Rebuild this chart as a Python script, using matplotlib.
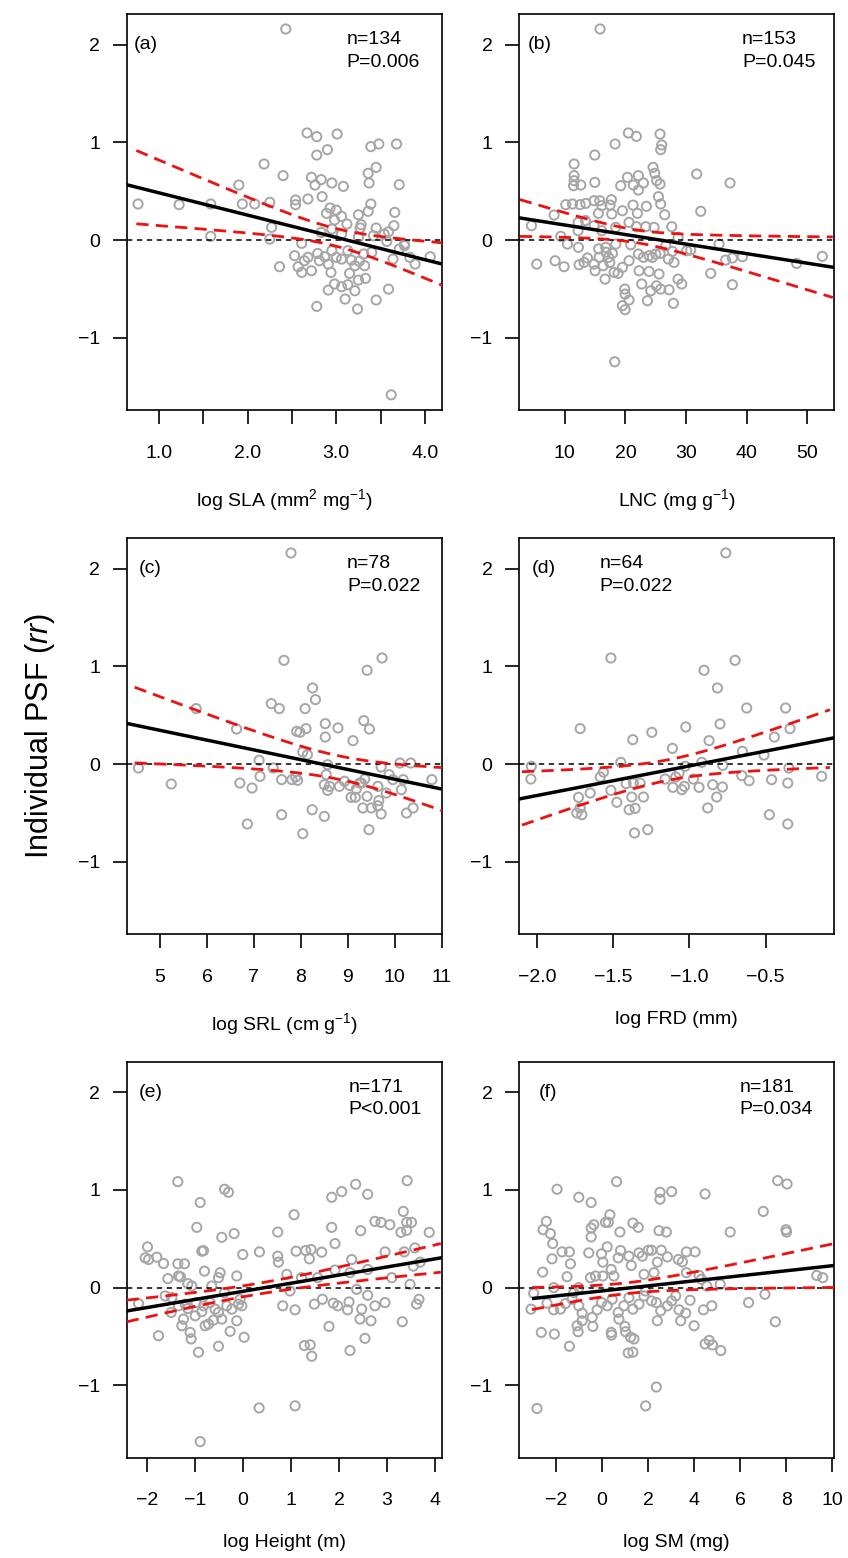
import numpy as np
import matplotlib
matplotlib.use("Agg")
import matplotlib.pyplot as plt

plt.rcParams['font.family'] = ['Liberation Sans', 'DejaVu Sans']
plt.rcParams['mathtext.fontset'] = 'custom'
plt.rcParams['mathtext.rm'] = 'Liberation Sans'
plt.rcParams['mathtext.it'] = 'Liberation Sans:italic'

# (a) log SLA vs rr
sla_pts = [(2.43, 2.16), (0.763, 0.369), (1.226, 0.362), (1.583, 0.369), (1.583, 0.038), (1.90, 0.563),
           (1.94, 0.369), (2.08, 0.369), (2.185, 0.778), (2.25, 0.386), (2.27, 0.13), (2.25, 0.01),
           (2.40, 0.659), (2.36, -0.273), (2.54, 0.41), (2.54, 0.362), (2.68, 0.42), (2.67, 1.096),
           (2.78, 1.058), (3.01, 1.085), (2.90, 0.925), (2.78, 0.87), (2.72, 0.642), (2.83, 0.618),
           (2.76, 0.563), (2.95, 0.584), (3.08, 0.549), (2.84, 0.444), (3.39, 0.956), (3.48, 0.983),
           (3.68, 0.983), (3.45, 0.744), (3.36, 0.683), (3.37, 0.584), (3.71, 0.567), (3.39, 0.369),
           (3.66, 0.283), (3.36, 0.294), (3.25, 0.259), (2.93, 0.328), (3.00, 0.307), (2.89, 0.273),
           (3.06, 0.242), (2.98, 0.205), (3.12, 0.164), (3.28, 0.157), (3.45, 0.123), (3.65, 0.147),
           (3.59, 0.085), (3.27, 0.123), (2.95, 0.113), (2.83, 0.078), (3.06, 0.061), (3.25, 0.027),
           (3.42, 0.044), (3.57, -0.014), (3.77, -0.058), (3.71, -0.092), (3.83, -0.177), (3.89, -0.246),
           (4.06, -0.171), (3.64, -0.195), (3.59, -0.502), (3.45, -0.614), (3.62, -1.584), (2.61, -0.034),
           (2.53, -0.16), (2.57, -0.273), (2.61, -0.331), (2.64, -0.212), (2.68, -0.177), (2.72, -0.314),
           (2.79, -0.137), (2.81, -0.212), (2.87, -0.171), (2.91, -0.246), (2.94, -0.331), (2.95, -0.109),
           (3.00, -0.177), (3.06, -0.195), (3.13, -0.109), (3.17, -0.205), (3.21, -0.263), (3.26, -0.218),
           (3.32, -0.263), (3.31, -0.143), (3.40, -0.126), (3.15, -0.341), (3.25, -0.41), (3.33, -0.392),
           (2.98, -0.45), (2.91, -0.512), (3.06, -0.478), (3.13, -0.457), (3.21, -0.519), (3.10, -0.604),
           (3.24, -0.706), (2.78, -0.679), (3.54, 0.061), (3.77, -0.04)]

# (b) LNC vs rr
lnc_pts = [(15.82, 2.16), (20.49, 1.096), (21.81, 1.061), (25.71, 1.085), (25.99, 0.973), (25.82, 0.925),
           (18.30, 0.983), (14.95, 0.87), (11.54, 0.778), (11.54, 0.659), (11.54, 0.608), (12.64, 0.563),
           (11.45, 0.556), (14.95, 0.59), (24.56, 0.744), (24.84, 0.683), (20.33, 0.642), (22.14, 0.659),
           (21.32, 0.563), (22.97, 0.584), (22.14, 0.512), (25.16, 0.608), (25.71, 0.573), (19.23, 0.556),
           (31.76, 0.676), (37.25, 0.584), (32.42, 0.294), (10.16, 0.362), (11.26, 0.369), (12.53, 0.362),
           (13.46, 0.375), (14.84, 0.403), (15.77, 0.403), (16.10, 0.352), (17.69, 0.413), (17.47, 0.358),
           (19.51, 0.30), (21.26, 0.358), (23.46, 0.345), (25.44, 0.444), (25.82, 0.369), (26.48, 0.259),
           (21.98, 0.273), (17.75, 0.266), (15.55, 0.273), (8.24, 0.256), (4.51, 0.147), (9.34, 0.038),
           (10.44, -0.041), (12.20, 0.181), (12.20, 0.096), (14.84, 0.147), (13.4, 0.2), (16.10, 0.096),
           (18.41, 0.13), (20.60, 0.181), (21.81, 0.137), (23.35, 0.137), (24.73, 0.13), (27.64, 0.137),
           (28.68, 0.027), (18.41, -0.041), (20.88, -0.048), (12.25, -0.075), (15.6, -0.09), (16.76, -0.075),
           (17.86, -0.137), (17.20, -0.177), (16.8, -0.125), (15.66, -0.177), (14.84, -0.246), (16.32, -0.263),
           (17.42, -0.229), (13.74, -0.184), (12.36, -0.253), (13.19, -0.229), (9.89, -0.273), (8.41, -0.212),
           (5.38, -0.246), (15.0, -0.314), (16.65, -0.40), (18.13, -0.331), (19.51, -0.28), (20.60, -0.212),
           (18.79, -0.341), (22.25, -0.314), (22.14, -0.143), (22.97, -0.177), (23.90, -0.16), (24.45, -0.177),
           (25.0, -0.143), (25.71, -0.137), (27.09, -0.195), (28.02, -0.229), (23.90, -0.321), (25.55, -0.348),
           (22.69, -0.45), (24.18, -0.519), (25.11, -0.468), (25.82, -0.502), (27.20, -0.509), (28.68, -0.40),
           (29.29, -0.45), (23.63, -0.621), (27.91, -0.648), (19.89, -0.502), (19.95, -0.553), (20.60, -0.614),
           (19.51, -0.672), (19.95, -0.713), (18.24, -1.246), (30.11, -0.109), (30.77, -0.102), (34.07, -0.341),
           (35.44, -0.041), (36.54, -0.205), (37.64, -0.184), (39.29, -0.171), (37.64, -0.457), (48.24, -0.239),
           (52.47, -0.167), (27.75, -0.116), (26.65, -0.058)]

# (c) log SRL vs rr
srl_pts = [(7.79, 2.16), (7.64, 1.061), (9.73, 1.085), (9.41, 0.959), (4.54, -0.041), (5.24, -0.205),
           (5.77, 0.567), (6.63, 0.358), (6.70, -0.195), (6.96, -0.246), (6.86, -0.614), (7.11, 0.038),
           (7.13, -0.126), (7.37, 0.618), (7.54, 0.567), (7.41, -0.041), (7.59, -0.16), (7.59, -0.519),
           (7.81, -0.16), (7.89, -0.133), (7.93, -0.167), (7.91, 0.334), (7.98, 0.324), (8.11, 0.362),
           (8.09, 0.567), (8.25, 0.778), (8.31, 0.659), (8.04, 0.123), (8.14, 0.096), (8.24, -0.468),
           (8.04, -0.713), (8.5, -0.536), (8.52, 0.413), (8.52, 0.276), (8.79, 0.369), (9.11, 0.239),
           (9.34, 0.444), (9.46, 0.358), (8.57, -0.007), (8.54, -0.109), (8.5, -0.212), (8.61, -0.229),
           (8.57, -0.27), (8.82, -0.229), (8.93, -0.177), (9.04, -0.22), (9.18, -0.256), (9.07, -0.341),
           (9.16, -0.341), (9.29, -0.195), (9.36, -0.154), (9.32, -0.45), (9.5, -0.45), (9.71, -0.512),
           (9.45, -0.672), (9.41, -0.331), (9.64, -0.229), (9.66, -0.375), (9.64, -0.427), (9.82, -0.297),
           (9.88, -0.109), (9.71, -0.031), (9.96, -0.16), (10.11, 0.01), (10.34, 0.01), (10.14, -0.263),
           (10.18, -0.16), (10.25, -0.502), (10.39, -0.45), (10.79, -0.16), (9.25, -0.195)]

# (d) log FRD vs rr
frd_pts = [(-0.761, 2.16), (-1.516, 1.085), (-0.70, 1.061), (-0.904, 0.959), (-0.816, 0.778), (-0.624, 0.573),
           (-0.368, 0.573), (-1.718, 0.362), (-1.247, 0.324), (-1.372, 0.249), (-1.024, 0.379), (-0.799, 0.41),
           (-0.871, 0.239), (-0.339, 0.362), (-0.442, 0.276), (-1.112, 0.16), (-0.652, 0.13), (-0.51, 0.092),
           (-2.039, -0.024), (-2.042, -0.154), (-1.565, -0.082), (-1.586, -0.133), (-1.451, 0.017),
           (-1.516, -0.27), (-1.652, -0.297), (-1.729, -0.341), (-1.718, -0.45), (-1.74, -0.502),
           (-1.707, -0.519), (-1.477, -0.392), (-1.416, -0.201), (-1.368, -0.195), (-1.324, -0.195),
           (-1.379, -0.338), (-1.302, -0.338), (-1.396, -0.468), (-1.357, -0.454), (-1.361, -0.706),
           (-1.274, -0.672), (-1.16, -0.154), (-1.109, -0.239), (-1.09, -0.133), (-1.068, -0.092),
           (-1.05, -0.263), (-1.033, -0.229), (-1.028, -0.024), (-0.974, -0.154), (-0.937, -0.239),
           (-0.919, 0.017), (-0.88, -0.45), (-0.847, -0.212), (-0.821, -0.338), (-0.783, -0.235),
           (-0.781, -0.014), (-0.656, -0.119), (-0.608, -0.171), (-0.46, -0.16), (-0.475, -0.519),
           (-0.354, -0.195), (-0.354, -0.614), (-0.346, -0.041), (-0.131, -0.126)]

# (e) log Height vs rr
height_pts = [(-1.355, 1.085), (-0.384, 1.007), (-0.301, 0.976), (-0.89, 0.871), (-0.96, 0.617), (-0.856, 0.373),
              (-0.82, 0.378), (-0.44, 0.515), (-0.183, 0.553), (-1.986, 0.417), (-2.035, 0.305), (-1.965, 0.288),
              (-1.792, 0.312), (-1.653, 0.247), (-1.355, 0.244), (-1.216, 0.244), (-1.563, 0.092), (-1.341, 0.119),
              (-1.30, 0.11), (-1.147, 0.041), (-1.064, 0.017), (-0.80, 0.169), (-0.474, 0.153), (-0.509, 0.102),
              (-0.128, 0.119), (-0.003, 0.339), (0.344, 0.366), (0.725, 0.569), (0.725, 0.322), (0.739, 0.261),
              (1.065, 0.746), (1.107, 0.373), (1.308, 0.38), (1.419, 0.39), (1.384, 0.295), (1.641, 0.363),
              (1.849, 0.925), (2.057, 0.983), (2.348, 1.058), (2.598, 0.956), (1.849, 0.617), (1.918, 0.451),
              (2.452, 0.583), (2.75, 0.678), (2.875, 0.668), (3.06, 0.644), (3.34, 0.78), (3.42, 1.095),
              (3.41, 0.668), (3.51, 0.668), (3.29, 0.566), (3.41, 0.586), (3.88, 0.566), (3.58, 0.407),
              (3.36, 0.366), (2.96, 0.366), (3.69, 0.261), (3.55, 0.22), (3.48, 0.034), (3.10, 0.102),
              (2.60, 0.186), (2.265, 0.288), (2.23, 0.153), (1.918, 0.18), (1.558, 0.102), (1.22, 0.102),
              (0.913, 0.136), (0.98, -0.034), (0.829, -0.186), (1.086, -0.227), (1.488, -0.169), (1.655, -0.119),
              (1.883, -0.159), (1.974, -0.186), (2.18, -0.227), (2.21, -0.146), (2.473, -0.22), (2.438, -0.322),
              (2.667, -0.339), (2.598, -0.078), (2.75, -0.186), (2.958, -0.153), (2.369, -0.017), (2.542, -0.519),
              (2.23, -0.644), (1.793, -0.397), (1.28, -0.593), (1.40, -0.586), (1.433, -0.702), (0.337, -1.231),
              (1.086, -1.21), (-0.89, -1.576), (3.319, -0.349), (3.617, -0.169), (3.666, -0.119), (-1.757, -0.492),
              (-2.173, -0.163), (-1.619, -0.085), (-1.494, -0.254), (-1.237, -0.322), (-1.272, -0.39),
              (-1.098, -0.458), (-1.078, -0.525), (-0.925, -0.661), (-0.509, -0.6), (-0.266, -0.447),
              (0.025, -0.508), (-0.128, -0.339), (-0.994, -0.288), (-0.786, -0.39), (-0.717, -0.373),
              (-0.613, -0.332), (-0.509, -0.254), (-0.44, -0.322), (-0.336, -0.186), (-0.23, -0.22),
              (-0.093, -0.169), (-0.023, -0.186), (-0.058, -0.119), (-0.821, -0.186), (-0.682, -0.153),
              (-0.578, -0.22), (-1.147, -0.214), (-1.341, -0.186), (-0.974, -0.153), (-0.648, 0.017),
              (-0.384, -0.051), (-1.480, -0.102), (-0.856, -0.246), (-1.203, -0.169)]

# (f) log SM vs rr
sm_pts = [(-1.956, 1.007), (0.627, 1.085), (-1.013, 0.925), (-0.476, 0.871), (2.514, 0.976), (2.514, 0.905),
          (3.02, 0.983), (4.473, 0.959), (7.623, 1.095), (8.03, 1.061), (6.999, 0.78), (5.562, 0.569),
          (7.985, 0.593), (8.01, 0.569), (9.32, 0.125), (9.58, 0.102), (-2.421, 0.678), (-2.566, 0.593),
          (-2.247, 0.553), (-2.145, 0.451), (-2.174, 0.295), (-1.739, 0.366), (-1.419, 0.366), (-1.376, 0.244),
          (-2.581, 0.159), (-2.972, -0.058), (-3.088, -0.22), (-2.639, -0.458), (-2.073, -0.475),
          (-2.827, -1.237), (-1.419, -0.6), (-1.521, 0.112), (-0.476, 0.519), (-0.476, 0.61), (-0.36, 0.644),
          (0.148, 0.668), (0.337, 0.746), (0.27, 0.668), (0.772, 0.569), (1.338, 0.661), (1.57, 0.617),
          (2.47, 0.583), (2.79, 0.569), (-0.578, 0.356), (-0.026, 0.346), (0.22, 0.417), (0.032, 0.261),
          (0.395, 0.186), (0.801, 0.38), (0.70, 0.305), (1.164, 0.322), (1.266, 0.227), (1.60, 0.356),
          (1.745, 0.322), (2.006, 0.383), (2.15, 0.383), (2.398, 0.261), (2.57, 0.383), (2.833, 0.315),
          (3.312, 0.288), (3.486, 0.264), (3.66, 0.366), (4.038, 0.366), (2.253, 0.153), (1.817, 0.136),
          (-0.505, 0.102), (-0.29, 0.119), (0.03, 0.119), (-1.231, -0.051), (-1.013, 0.0), (-2.102, 0.0),
          (-2.392, -0.159), (-2.102, -0.227), (-1.811, -0.22), (-1.594, -0.163), (-1.30, -0.119),
          (-1.013, -0.186), (-0.868, -0.261), (-1.086, -0.39), (-1.042, -0.451), (-0.868, -0.339),
          (-0.432, -0.305), (-0.403, -0.397), (-0.215, -0.227), (-0.026, -0.153), (0.22, -0.186),
          (0.438, -0.119), (0.395, -0.458), (0.41, -0.485), (0.70, -0.254), (0.729, -0.322), (0.99, -0.397),
          (1.019, -0.451), (1.237, -0.508), (1.382, -0.525), (1.135, -0.668), (1.338, -0.661), (0.946, -0.186),
          (1.164, -0.102), (1.338, -0.22), (1.60, -0.169), (1.817, -0.085), (1.89, -0.034), (2.15, -0.136),
          (2.354, -0.153), (2.398, -0.339), (2.543, -0.237), (2.833, -0.186), (3.022, -0.136), (3.196, -0.085),
          (3.341, -0.227), (3.414, -0.339), (3.631, -0.261), (3.82, -0.129), (3.994, -0.39), (4.40, -0.227),
          (4.763, -0.186), (4.546, 0.017), (5.127, 0.034), (4.212, 0.125), (4.31, 0.085), (4.473, -0.576),
          (4.65, -0.54), (4.792, -0.586), (5.155, -0.644), (6.36, -0.153), (7.071, -0.068), (7.521, -0.349),
          (2.354, -1.017), (1.89, -1.21), (3.66, 0.153), (0.51, 0.119)]

# fitted regression (rr = a + b*x) and its confidence band
fit_intercept = [0.711, 0.2515, 0.845, 0.283, -0.0378, -0.0334]
fit_slope = [-0.228, -0.00977, -0.1001, 0.3025, 0.0831, 0.0258]
fit_span = [(0.63, 4.2), (2.45, 54.5), (4.29, 11.0), (-2.12, -0.05), (-2.42, 4.14), (-3.045, 10.1)]
ci_center = [2.98, 21.6, 8.82, -1.135, 0.29, 1.05]
ci_min = [0.09, 0.065, 0.12, 0.105, 0.055, 0.055]
ci_spread = [0.163, 0.0093, 0.0844, 0.261, 0.0355, 0.0241]
ci_span = [(0.744, 4.2), (2.6, 54.2), (4.46, 11.0), (-2.10, -0.077), (-2.42, 4.12), (-3.045, 10.1)]

panel_tags = ['(a)', '(b)', '(c)', '(d)', '(e)', '(f)']
n_labels = ['n=134', 'n=153', 'n=78', 'n=64', 'n=171', 'n=181']
p_labels = ['P=0.006', 'P=0.045', 'P=0.022', 'P=0.022', 'P<0.001', 'P=0.034']
x_titles = [r'log SLA (mm$^{2}$ mg$^{-1}$)', r'LNC (mg g$^{-1}$)', r'log SRL (cm g$^{-1}$)',
            'log FRD (mm)', 'log Height (m)', 'log SM (mg)']
x_ticks = [[1.0, 1.5, 2.0, 2.5, 3.0, 3.5, 4.0], [10, 20, 30, 40, 50], [5, 6, 7, 8, 9, 10, 11],
           [-2.0, -1.5, -1.0, -0.5], [-2, -1, 0, 1, 2, 3, 4], [-2, 0, 2, 4, 6, 8, 10]]
x_ticklabels = [['1.0', '', '2.0', '', '3.0', '', '4.0'], ['10', '20', '30', '40', '50'],
                ['5', '6', '7', '8', '9', '10', '11'], ['\u22122.0', '\u22121.5', '\u22121.0', '\u22120.5'],
                ['\u22122', '\u22121', '0', '1', '2', '3', '4'], ['\u22122', '0', '2', '4', '6', '8', '10']]
x_limits = [(0.635, 4.19), (2.45, 54.4), (4.29, 11.0), (-2.12, -0.05), (-2.42, 4.14), (-3.61, 10.07)]
y_limits = (-1.74, 2.31)

all_pts = [sla_pts, lnc_pts, srl_pts, frd_pts, height_pts, sm_pts]

# layout (figure fractions)
tag_x = [0.021, 0.029, 0.037, 0.041, 0.037, 0.063]
nlab_x = [0.697, 0.708, 0.699, 0.255, 0.705, 0.70]
col_left = [0.1494, 0.612]
row_bottom = [0.7368, 0.4005, 0.0644]
ax_w, ax_h = 0.3715, 0.2540

fig = plt.figure(figsize=(8.48, 15.58), dpi=100)

for i in range(6):
    r, c = divmod(i, 2)
    ax = fig.add_axes([col_left[c], row_bottom[r], ax_w, ax_h])
    px, py = np.array(all_pts[i]).T
    ax.scatter(px, py, s=44, facecolors='none', edgecolors='#a6a6a6', linewidths=1.4, zorder=2)
    ax.axhline(0, color='black', lw=1.1, dashes=(3.5, 3), zorder=3)

    xf = np.linspace(fit_span[i][0], fit_span[i][1], 200)
    ax.plot(xf, fit_intercept[i] + fit_slope[i] * xf, color='black', lw=2.5, zorder=5,
            solid_capstyle='butt')
    xc = np.linspace(ci_span[i][0], ci_span[i][1], 200)
    yc = fit_intercept[i] + fit_slope[i] * xc
    hw = np.sqrt(ci_min[i] ** 2 + (ci_spread[i] * (xc - ci_center[i])) ** 2)
    for band in (yc + hw, yc - hw):
        ax.plot(xc, band, color='#ee1111', lw=2.0, dashes=(4.4, 2.6), zorder=4)

    ax.set_xlim(*x_limits[i])
    ax.set_ylim(*y_limits)
    ax.set_xticks(x_ticks[i])
    ax.set_xticklabels(x_ticklabels[i])
    ax.set_yticks([-1, 0, 1, 2])
    ax.set_yticklabels(['\u22121', '0', '1', '2'])
    ax.tick_params(direction='out', length=10, width=1.2, labelsize=14)
    ax.tick_params(axis='x', pad=15)
    ax.tick_params(axis='y', pad=9)
    for s in ax.spines.values():
        s.set_linewidth(1.2)
    ax.set_xlabel(x_titles[i], fontsize=14, labelpad=18)

    tr = ax.get_yaxis_transform()
    ax.text(tag_x[i], 2.0, panel_tags[i], transform=tr, fontsize=14, va='center', ha='left')
    ax.text(nlab_x[i], 2.05, n_labels[i], transform=tr, fontsize=14, va='center', ha='left')
    ax.text(nlab_x[i], 1.82, p_labels[i], transform=tr, fontsize=14, va='center', ha='left')

fig.text(0.047, 0.5276, r'Individual PSF ($rr$)', rotation=90, fontsize=22, va='center', ha='center')

fig.savefig('out.png', dpi=100)
